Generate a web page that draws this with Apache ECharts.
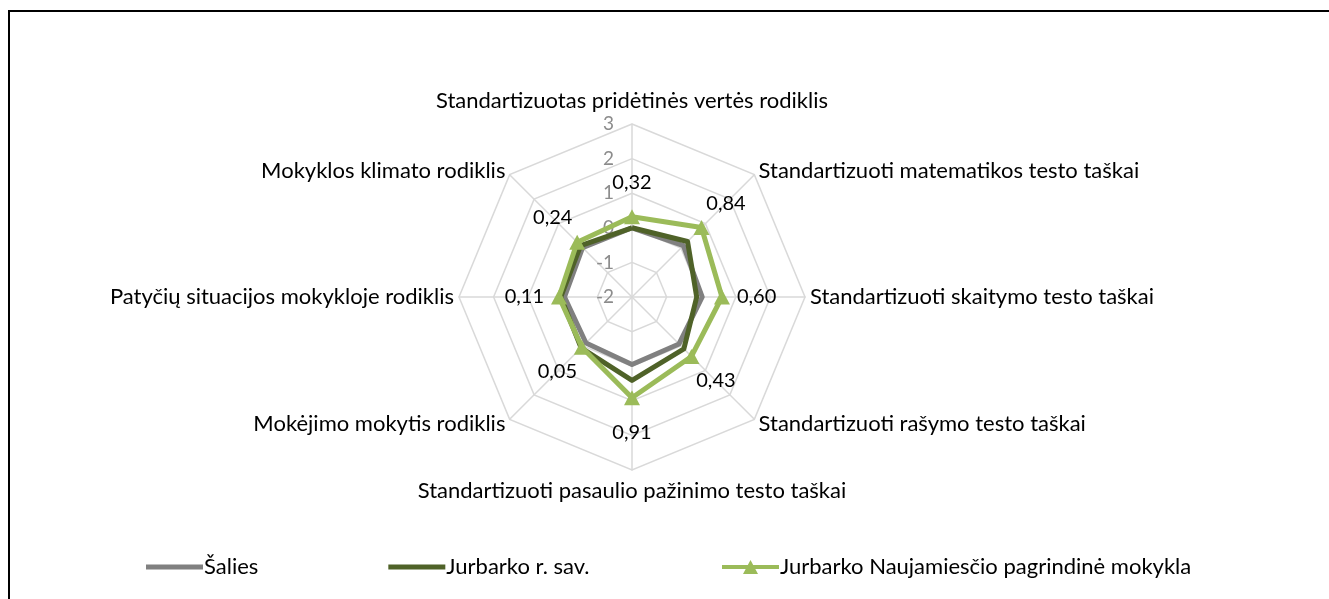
<!DOCTYPE html>
<html><head><meta charset="utf-8">
<script src="https://cdn.jsdelivr.net/npm/echarts@6/dist/echarts.min.js"></script>
<style>
html,body{margin:0;padding:0;background:#fff;overflow:hidden}
#c{position:absolute;left:0;top:0;width:1329px;height:599px}
#frame{position:absolute;left:8px;top:10px;width:1340px;height:620px;border-left:2px solid #000;border-top:2px solid #000;pointer-events:none}
</style>
</head><body><div id="c"></div><div id="frame"></div>
<script>
// ---- data (clockwise from the top, as in the reference) ----
const indicatorNames = [
  'Standartizuotas pridėtinės vertės rodiklis',
  'Standartizuoti matematikos testo taškai',
  'Standartizuoti skaitymo testo taškai',
  'Standartizuoti rašymo testo taškai',
  'Standartizuoti pasaulio pažinimo testo taškai',
  'Mokėjimo mokytis rodiklis',
  'Patyčių situacijos mokykloje rodiklis',
  'Mokyklos klimato rodiklis'
];
const seriesNames = ['Šalies', 'Jurbarko r. sav.', 'Jurbarko Naujamiesčio pagrindinė mokykla'];
const salies  = [0.00, 0.10, 0.03, -0.08, -0.05, -0.12, -0.05, 0.02];
const rajonas = [0.00, 0.27, -0.13, 0.12, 0.41, 0.08, 0.06, 0.10];
const mokykla = [0.32, 0.84, 0.60, 0.43, 0.91, 0.05, 0.11, 0.24];
const axisMin = -2, axisMax = 3, axisSplits = 5;

// ---- styling ----
const FONT = 'Lato';
const labelOffset = 1.0;           // value-space offset placing data labels outside the markers
const nameGaps = [12, 6, 5, 6, 10, 6, 5, 6];
const fmt = v => v.toFixed(2).replace('.', ',');

// ECharts lays radar indicators counter-clockwise; reorder so the picture runs clockwise.
const order = indicatorNames.map((_, i) => (indicatorNames.length - i) % indicatorNames.length);
const ro = arr => order.map(i => arr[i]);

const chart = echarts.init(document.getElementById('c'), null, {renderer: 'canvas'});
chart.setOption({
  animation: false,
  backgroundColor: '#fff',
  textStyle: {fontFamily: FONT},
  legend: [{
    data: seriesNames.slice(0, 2),
    left: 141, top: 551, itemWidth: 57, itemHeight: 5, itemGap: 130, icon: 'rect',
    textStyle: {fontFamily: FONT, fontSize: 22, color: '#000', padding: [0, 0, 0, -4]}
  }, {
    data: [{name: seriesNames[2], icon: 'path://M0,5H57V9H0Z M28.5,0L36,14H21Z'}],
    left: 717, top: 551, itemWidth: 57, itemHeight: 14,
    textStyle: {fontFamily: FONT, fontSize: 22, color: '#000', padding: [0, 0, 0, -4]}
  }],
  radar: {
    center: [632, 297], radius: 173, startAngle: 90, splitNumber: axisSplits, shape: 'polygon',
    indicator: order.map(i => {
      const o = {name: indicatorNames[i], min: axisMin, max: axisMax, nameGap: nameGaps[i]};
      if (i === 0) o.axisLabel = {show: true};
      return o;
    }),
    axisName: {color: '#000', fontSize: 22, fontFamily: FONT},
    splitLine: {lineStyle: {color: '#d9d9d9', width: 1.5}},
    splitArea: {show: false},
    axisLine: {lineStyle: {color: '#d9d9d9', width: 1.5}},
    axisTick: {show: false},
    axisLabel: {show: false, color: '#8c8c8c', fontSize: 19, fontFamily: FONT, margin: 18,
      formatter: v => String(v)}
  },
  series: [{
    type: 'radar',
    data: [
      {name: seriesNames[0], value: ro(salies), symbol: 'none',
       lineStyle: {color: '#808080', width: 5}, itemStyle: {color: '#808080'}},
      {name: seriesNames[1], value: ro(rajonas), symbol: 'none',
       lineStyle: {color: '#4f6228', width: 5}, itemStyle: {color: '#4f6228'}},
      {name: seriesNames[2], value: ro(mokykla), symbol: 'triangle', symbolSize: [16, 15],
       lineStyle: {color: '#9bbb59', width: 5}, itemStyle: {color: '#9bbb59'}},
      {name: 'labels', value: ro(mokykla).map(v => v + labelOffset), symbol: 'circle', symbolSize: 1,
       lineStyle: {width: 0, opacity: 0}, itemStyle: {color: 'rgba(0,0,0,0)'},
       label: {show: true, position: 'inside', color: '#000', fontSize: 20, fontFamily: FONT,
         formatter: p => fmt(p.value - labelOffset)}}
    ]
  }]
});
</script>
</body></html>
